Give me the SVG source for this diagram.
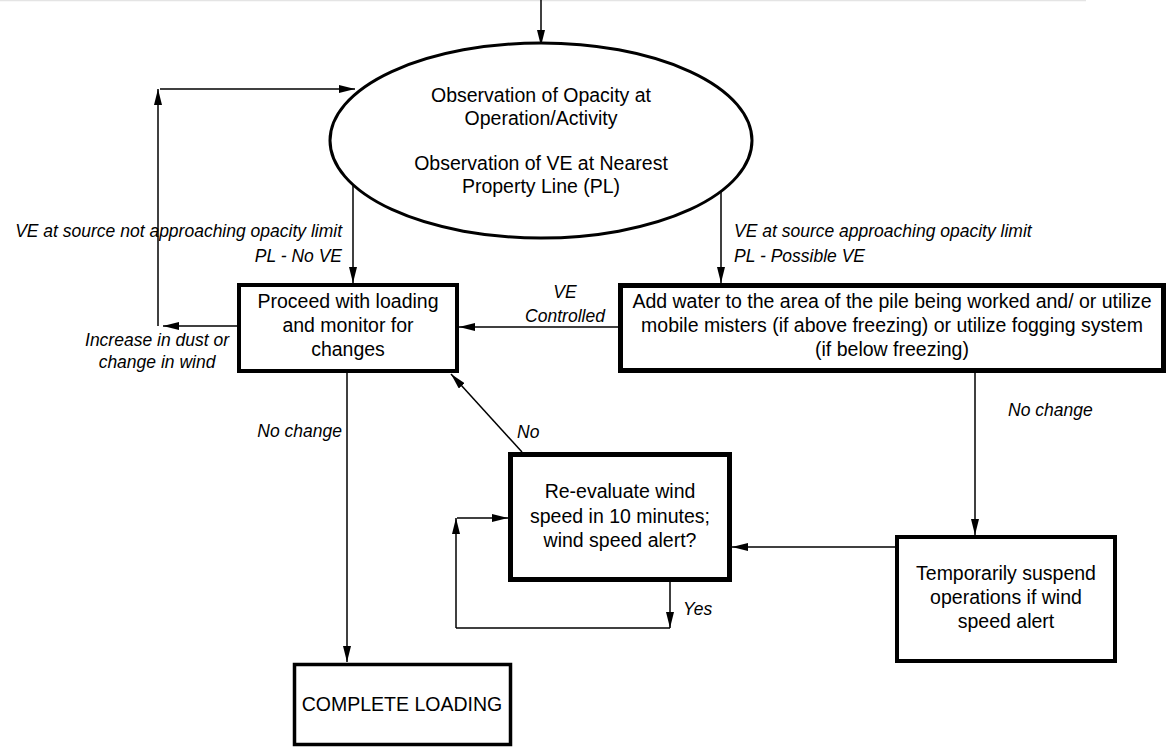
<svg xmlns="http://www.w3.org/2000/svg" width="1170" height="748" viewBox="0 0 1170 748">
<defs>
<marker id="ah" markerWidth="16" markerHeight="8" refX="16" refY="4" orient="auto" markerUnits="userSpaceOnUse"><path d="M0,0 L16,4 L0,8 z" fill="#000"/></marker>
</defs>
<style>
.n{font-family:"Liberation Sans",Arial,sans-serif;font-size:19.5px;fill:#000;text-anchor:middle}
.l{font-family:"Liberation Sans",Arial,sans-serif;font-size:17.5px;font-style:italic;fill:#000}
.c{fill:none;stroke:#000;stroke-width:1.5;marker-end:url(#ah)}
.c0{fill:none;stroke:#000;stroke-width:1.5}
.b{fill:#fff;stroke:#000}
</style>
<rect width="1170" height="748" fill="#fff"/>
<line x1="0" y1="0.5" x2="1086" y2="0.5" stroke="#e4e4e4" stroke-width="1.5"/>
<g id="connectors">
<path class="c" d="M541,0 V46" stroke-width="2.5"/>
<path class="c" d="M158,326 V89"/>
<path class="c" d="M160,89 H355"/>
<path class="c" d="M353,186 V283"/>
<path class="c" d="M721,192 V283"/>
<path class="c" d="M237,326 H163"/>
<path class="c" d="M618,327 H459"/>
<path class="c" d="M347,373 V662"/>
<path class="c" d="M522,452 L451,374"/>
<path class="c" d="M975,373 V535"/>
<path class="c" d="M895,547 H732"/>
<path class="c" d="M670,582 V628"/>
<path class="c0" d="M670,628 H456"/>
<path class="c" d="M456,628 V518"/>
<path class="c" d="M457,518 H508"/>
</g>
<g id="labels">
<text class="l" x="342" y="237" text-anchor="end">VE at source not approaching opacity limit</text>
<text class="l" x="342" y="262" text-anchor="end">PL - No VE</text>
<text class="l" x="734" y="237">VE at source approaching opacity limit</text>
<text class="l" x="734" y="262">PL - Possible VE</text>
<text class="l" x="157" y="346" text-anchor="middle">Increase in dust or</text>
<text class="l" x="157" y="368" text-anchor="middle">change in wind</text>
<text class="l" x="565" y="298" text-anchor="middle">VE</text>
<text class="l" x="565" y="322" text-anchor="middle">Controlled</text>
<text class="l" x="342" y="437" text-anchor="end">No change</text>
<text class="l" x="1008" y="416">No change</text>
<text class="l" x="517" y="438">No</text>
<text class="l" x="683" y="615">Yes</text>
</g>
<g id="observation">
<ellipse class="b" cx="541" cy="140.5" rx="211" ry="97.5" stroke-width="3"/>
<text class="n" x="541" y="102">Observation of Opacity at</text>
<text class="n" x="541" y="125">Operation/Activity</text>
<text class="n" x="541" y="170">Observation of VE at Nearest</text>
<text class="n" x="541" y="193">Property Line (PL)</text>
</g>
<g id="proceed">
<rect class="b" x="239" y="285" width="218" height="86" stroke-width="4"/>
<text class="n" x="348" y="308">Proceed with loading</text>
<text class="n" x="348" y="332">and monitor for</text>
<text class="n" x="348" y="356">changes</text>
</g>
<g id="addwater">
<rect class="b" x="620.5" y="285.5" width="543" height="85" stroke-width="5"/>
<text class="n" x="892" y="308">Add water to the area of the pile being worked and/ or utilize</text>
<text class="n" x="892" y="332">mobile misters (if above freezing) or utilize fogging system</text>
<text class="n" x="892" y="356">(if below freezing)</text>
</g>
<g id="reevaluate">
<rect class="b" x="510.5" y="454.5" width="219" height="125" stroke-width="5"/>
<text class="n" x="620" y="498">Re-evaluate wind</text>
<text class="n" x="620" y="523">speed in 10 minutes;</text>
<text class="n" x="620" y="547">wind speed alert?</text>
</g>
<g id="suspend">
<rect class="b" x="897" y="537" width="218" height="124" stroke-width="4"/>
<text class="n" x="1006" y="580">Temporarily suspend</text>
<text class="n" x="1006" y="604">operations if wind</text>
<text class="n" x="1006" y="628">speed alert</text>
</g>
<g id="complete">
<rect class="b" x="294.5" y="664.5" width="216" height="80" stroke-width="3.5"/>
<text class="n" x="402" y="711">COMPLETE LOADING</text>
</g>
</svg>
